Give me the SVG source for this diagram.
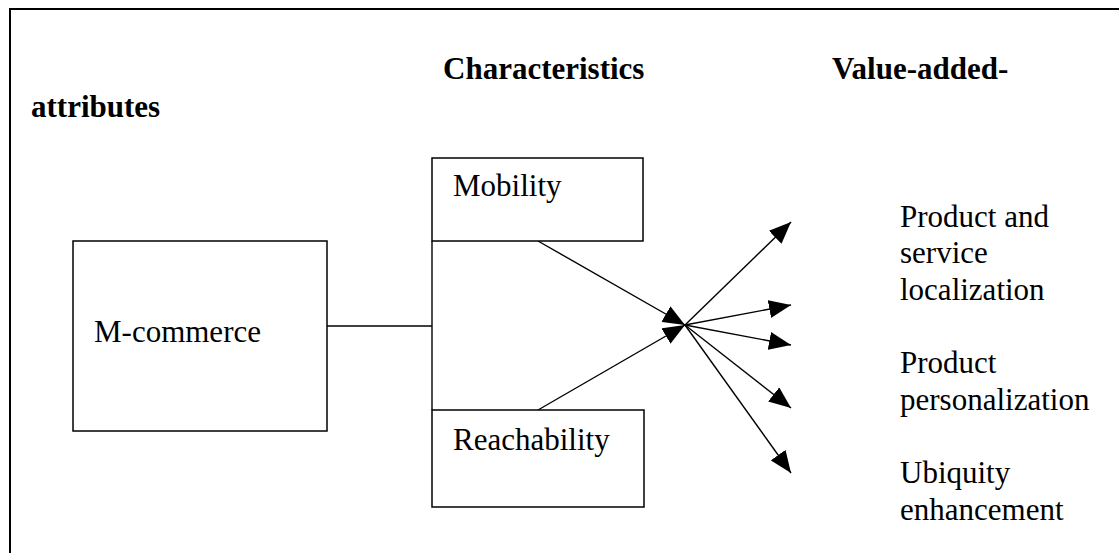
<svg xmlns="http://www.w3.org/2000/svg" width="1119" height="553" viewBox="0 0 1119 553">
<style>
text{font-family:"Liberation Serif","Times New Roman",serif;font-size:31px;fill:#000}
.h{font-weight:bold}
.box{fill:#fff;stroke:#000;stroke-width:1.5}
.ln{fill:none;stroke:#000;stroke-width:1.4}
.ar{fill:none;stroke:#000;stroke-width:1.4;marker-end:url(#ah)}
</style>
<defs>
<marker id="ah" markerUnits="userSpaceOnUse" markerWidth="22" markerHeight="18" refX="22" refY="9" orient="auto">
<path d="M0,0 L22,9 L0,18 z" fill="#000"/>
</marker>
</defs>
<rect width="1119" height="553" fill="#fff"/>
<path d="M10,553 V9 H1119" fill="none" stroke="#000" stroke-width="2"/>
<g id="headings">
<text class="h" x="443" y="79">Characteristics</text>
<text class="h" x="832" y="79">Value-added-</text>
<text class="h" x="31" y="117">attributes</text>
</g>
<g id="connectors">
<line class="ln" x1="327" y1="326" x2="432" y2="326"/>
<line class="ln" x1="432" y1="241" x2="432" y2="410"/>
<line class="ar" x1="538" y1="241" x2="685" y2="325"/>
<line class="ar" x1="538" y1="410" x2="685" y2="325"/>
<line class="ar" x1="685" y1="325" x2="791" y2="222"/>
<line class="ar" x1="685" y1="325" x2="791" y2="305"/>
<line class="ar" x1="685" y1="325" x2="791" y2="345"/>
<line class="ar" x1="685" y1="325" x2="791" y2="408"/>
<line class="ar" x1="685" y1="325" x2="791" y2="473"/>
</g>
<g id="mcommerce">
<rect class="box" x="73" y="241" width="254" height="190"/>
<text x="94" y="342">M-commerce</text>
</g>
<g id="mobility">
<rect class="box" x="432" y="158" width="211" height="83"/>
<text x="453" y="196">Mobility</text>
</g>
<g id="reachability">
<rect class="box" x="432" y="410" width="212" height="97"/>
<text x="453" y="450">Reachability</text>
</g>
<g id="localization">
<text x="900" y="227">Product and</text>
<text x="900" y="263">service</text>
<text x="900" y="300">localization</text>
</g>
<g id="personalization">
<text x="900" y="373">Product</text>
<text x="900" y="410">personalization</text>
</g>
<g id="ubiquity">
<text x="900" y="483">Ubiquity</text>
<text x="900" y="520">enhancement</text>
</g>
</svg>
